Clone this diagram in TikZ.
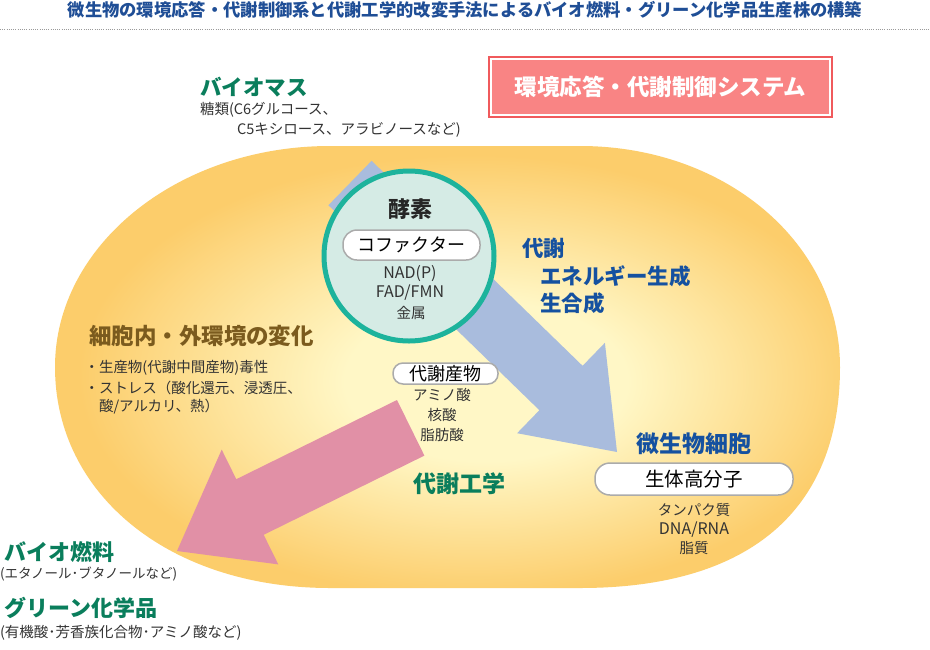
\documentclass[tikz,border=0pt]{standalone}
\usepackage{fontspec}
\setmainfont{Noto Sans CJK JP}
\definecolor{titleblue}{HTML}{1F4E96}
\definecolor{dotgray}{HTML}{9A9A9A}
\definecolor{biogreen}{HTML}{0A7E5C}
\definecolor{boxred}{HTML}{F05A5C}
\definecolor{boxpink}{HTML}{F98484}
\definecolor{cellin}{HTML}{FFF7C6}
\definecolor{cellout}{HTML}{FCCD6B}
\definecolor{arrowblue}{HTML}{A9BCDD}
\definecolor{arrowpink}{HTML}{E190A6}
\definecolor{ringteal}{HTML}{1DB39C}
\definecolor{ringfill}{HTML}{D5EBE5}
\definecolor{metblue}{HTML}{1551A0}
\definecolor{envbrown}{HTML}{7B5B1E}
\definecolor{bodytext}{HTML}{333333}
\definecolor{pillgray}{HTML}{ABABAB}
\pgfdeclareradialshading{cellshade}{\pgfpoint{3bp}{-2bp}}{color(0bp)=(cellin); color(9bp)=(cellin); color(25bp)=(cellout); color(50bp)=(cellout)}
\newcommand\fs[1]{\fontsize{#1}{#1}\selectfont}
\begin{document}
\begin{tikzpicture}[x=1pt,y=-1pt,
  every node/.style={inner sep=0pt, outer sep=0pt},
  bodytxt/.style={text=bodytext, font=\fs{14.5}},
  greenhead/.style={text=biogreen, font=\bfseries\fs{22}},
  bluehead/.style={text=metblue, font=\bfseries\fs{22}},
  pill/.style={draw=pillgray, line width=1.5pt, fill=white, text=black}]
\useasboundingbox (0,0) rectangle (930,649);
\fill[white] (0,0) rectangle (930,649);
% title and rule
\node[text=titleblue, font=\bfseries\fs{17.3}] (title) at (465,10) {微生物の環境応答・代謝制御系と代謝工学的改変手法によるバイオ燃料・グリーン化学品生産株の構築};
\coordinate (rulel) at (0,29.5);
\coordinate (ruler) at (930,29.5);
\draw[dotgray, line width=0.8pt, dash pattern=on 0.8pt off 1.4pt] (rulel) -- (ruler);
% cell
\path[shading=cellshade] (330,146) -- (580,146)
  .. controls (725.6,146) and (840,243.2) .. (840,367)
  .. controls (840,510.7) and (749,588) .. (580,588) -- (330,588)
  .. controls (170.5,588) and (55,495.2) .. (55,367)
  .. controls (55,245) and (178.2,146) .. (330,146) -- cycle;
% arrows
\fill[arrowblue] (371.6,160.8) -- (582.6,365.8) -- (604.9,342.8) -- (617,452) -- (517.1,433.2) -- (539.4,410.2) -- (328.4,205.2) -- cycle;
\fill[arrowpink] (397,400) -- (236.3,479.2) -- (221.7,449.6) -- (177,551) -- (278.3,564.4) -- (263.7,534.8) -- (424.4,455.6) -- cycle;
% biomass
\node[greenhead, font=\bfseries\fs{21.5}, anchor=west] (biomass) at (200,87) {バイオマス};
\node[bodytxt, anchor=west] (sugar1) at (200,110) {糖類(C6グルコース、};
\node[bodytxt, anchor=west] (sugar2) at (237,130) {C5キシロース、アラビノースなど)};
% system box
\node[fill=boxred, minimum width=345pt, minimum height=62pt] (sysouter) at (660.5,87) {};
\node[fill=boxpink, draw=white, line width=1.5pt, minimum width=339pt, minimum height=56pt, text=white, font=\bfseries\fs{22.5}] (sysbox) at (sysouter) {環境応答・代謝制御システム};
% enzyme circle
\node[circle, draw=ringteal, line width=5pt, fill=ringfill, minimum size=170pt] (enzyme) at (409,256) {};
\node[text=black!85, font=\bfseries\fs{22}] (koso) at (410,209) {酵素};
\node[pill, rounded corners=14pt, minimum width=137pt, minimum height=30pt, font=\fs{18}] (cofactor) at (411.5,245) {コファクター};
\node[text=bodytext, font=\fs{16}] (nadp) at (410,274) {NAD(P)};
\node[text=bodytext, font=\fs{16}] (fad) at (410,293) {FAD/FMN};
\node[text=bodytext, font=\fs{14.5}] (metal) at (411,313) {金属};
% metabolism labels
\node[bluehead, font=\bfseries\fs{21.5}, anchor=west] (met1) at (522,248) {代謝};
\node[bluehead, font=\bfseries\fs{21.5}, anchor=west] (met2) at (540,276) {エネルギー生成};
\node[bluehead, font=\bfseries\fs{21.5}, anchor=west] (met3) at (540,303) {生合成};
% environment
\node[text=envbrown, font=\bfseries\fs{22.5}, anchor=west] (env) at (89,336) {細胞内・外環境の変化};
\node[bodytxt, anchor=west] (env1) at (84.5,368) {・生産物(代謝中間産物)毒性};
\node[bodytxt, anchor=west] (env2) at (84.5,388) {・ストレス（酸化還元、浸透圧、};
\node[bodytxt, anchor=west] (env3) at (99,407) {酸/アルカリ、熱）};
% metabolites
\node[pill, rounded corners=10pt, minimum width=105pt, minimum height=21pt, font=\fs{18}] (metabo) at (445.5,373.5) {代謝産物};
\node[bodytxt] (amino) at (442,395) {アミノ酸};
\node[bodytxt] (nucl) at (442,415) {核酸};
\node[bodytxt] (fatty) at (442,435) {脂肪酸};
% metabolic engineering
\node[greenhead, font=\bfseries\fs{23}] (meteng) at (459,484) {代謝工学};
% microbial cell
\node[bluehead, font=\bfseries\fs{23}] (microbe) at (694,444) {微生物細胞};
\node[pill, rounded corners=15pt, minimum width=198pt, minimum height=32pt, font=\fs{19.5}] (macro) at (694,479) {生体高分子};
\node[bodytxt] (protein) at (694,510) {タンパク質};
\node[bodytxt, font=\fs{16}] (dna) at (694,530) {DNA/RNA};
\node[bodytxt] (lipid) at (694,548) {脂質};
% products
\node[greenhead, anchor=west] (biofuel) at (5,552) {バイオ燃料};
\node[bodytxt, font=\fs{13.5}, anchor=west] (biofuel2) at (0,574) {(エタノール･ブタノールなど)};
\node[greenhead, anchor=west] (green) at (5,608) {グリーン化学品};
\node[bodytxt, anchor=west] (green2) at (0,633) {(有機酸･芳香族化合物･アミノ酸など)};
\end{tikzpicture}
\end{document}
